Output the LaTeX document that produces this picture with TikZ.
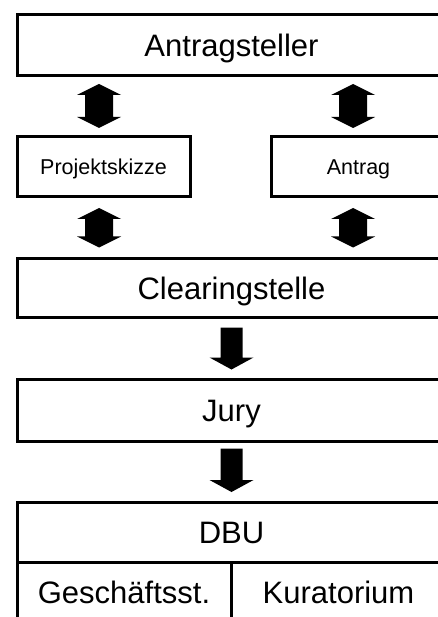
\documentclass[tikz,border=0pt]{standalone}
\usepackage{fontspec}
\setmainfont{Liberation Sans}
\usetikzlibrary{calc,positioning}

% fat block arrows, #1 = upper end, #2 = lower end
\newcommand{\fatboth}[2]{%
  \fill let \p1=(#1), \p2=(#2) in (\x1,\y1) -- (\x1+22pt,\y1-11pt) -- (\x1+14pt,\y1-11pt)
    -- (\x1+14pt,\y2+11pt) -- (\x1+22pt,\y2+11pt) -- (\x1,\y2) -- (\x1-22pt,\y2+11pt)
    -- (\x1-14pt,\y2+11pt) -- (\x1-14pt,\y1-11pt) -- (\x1-22pt,\y1-11pt) -- cycle;}
\newcommand{\fatdown}[2]{%
  \fill let \p1=(#1), \p2=(#2) in (\x1-11pt,\y1) -- (\x1+11pt,\y1) -- (\x1+11pt,\y2+12pt)
    -- (\x1+22pt,\y2+12pt) -- (\x1,\y2) -- (\x1-22pt,\y2+12pt) -- (\x1-11pt,\y2+12pt) -- cycle;}

\begin{document}
\begin{tikzpicture}[x=1pt,y=-1pt,
  box/.style={draw,line width=3pt,inner sep=0pt,outer sep=0pt,text height=22pt,text depth=0pt,
    font=\fontsize{31}{36}\selectfont},
  small/.style={box,text height=15.5pt,font=\fontsize{21.5}{24}\selectfont}]
\useasboundingbox (0,0) rectangle (438,617);
\clip (0,0) rectangle (438,617);
% boxes
\node[box,minimum width=429pt,minimum height=61pt] (ant) at (231.5,45.5) {Antragsteller};
\node[small,minimum width=173pt,minimum height=60pt] (proj) at (103.5,167) {Projektskizze};
\node[small,minimum width=175pt,minimum height=60pt] (antr) at (358.5,167) {Antrag};
\node[box,minimum width=429pt,minimum height=59pt] (clear) at (231.5,288) {Clearingstelle};
\node[box,minimum width=429pt,minimum height=62pt] (jury) at (231.5,410.5) {Jury};
\node[box,minimum width=429pt,minimum height=60pt] (dbu) at (231.5,532) {DBU};
\node[box,minimum width=214pt,minimum height=60pt,anchor=north west] (gs) at (dbu.south west) {Gesch\"aftsst.};
\node[box,minimum width=215pt,minimum height=60pt,anchor=north west] (kur) at (gs.north east) {Kuratorium};
% arrows
\coordinate (al) at (99,0);
\coordinate (ar) at (353,0);
\fatboth{$(al |- ant.south)+(0,8)$}{$(al |- proj.north)+(0,-9)$}
\fatboth{$(ar |- ant.south)+(0,8)$}{$(ar |- antr.north)+(0,-9)$}
\fatboth{$(al |- proj.south)+(0,11)$}{$(al |- clear.north)+(0,-11)$}
\fatboth{$(ar |- antr.south)+(0,11)$}{$(ar |- clear.north)+(0,-11)$}
\fatdown{$(clear.south)+(0,10)$}{$(jury.north)+(0,-10)$}
\fatdown{$(jury.south)+(0,7)$}{$(dbu.north)+(0,-10)$}
\end{tikzpicture}
\end{document}
